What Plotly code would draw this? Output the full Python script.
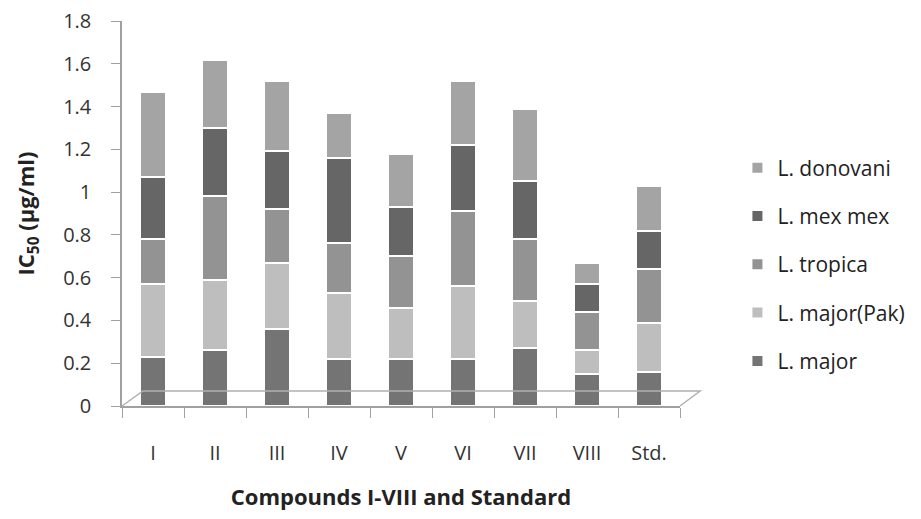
import plotly.graph_objects as go

categories = ["I", "II", "III", "IV", "V", "VI", "VII", "VIII", "Std."]
l_major = [0.23, 0.26, 0.36, 0.22, 0.22, 0.22, 0.27, 0.15, 0.16]
l_major_pak = [0.34, 0.33, 0.31, 0.31, 0.24, 0.34, 0.22, 0.11, 0.23]
l_tropica = [0.21, 0.39, 0.25, 0.23, 0.24, 0.35, 0.29, 0.18, 0.25]
l_mex_mex = [0.29, 0.32, 0.27, 0.40, 0.23, 0.31, 0.27, 0.13, 0.18]
l_donovani = [0.40, 0.32, 0.33, 0.21, 0.25, 0.30, 0.34, 0.10, 0.21]

series = [
    ("L. major", l_major, "#747474"),
    ("L. major(Pak)", l_major_pak, "#bebebe"),
    ("L. tropica", l_tropica, "#939393"),
    ("L. mex mex", l_mex_mex, "#666666"),
    ("L. donovani", l_donovani, "#a4a4a4"),
]

fig = go.Figure()
for i, (name, vals, col) in enumerate(series):
    fig.add_trace(go.Bar(
        x=categories, y=vals, name=name, legendgroup=name,
        legendrank=len(series) - i,
        marker=dict(color=col, line=dict(color="white", width=2)),
    ))

font = "Open Sans, DejaVu Sans, sans-serif"
fig.update_layout(
    barmode="stack",
    bargap=0.58,
    width=905, height=503,
    margin=dict(l=114, r=233, t=13, b=105),
    paper_bgcolor="white", plot_bgcolor="white",
    font=dict(family=font, size=20, color="#333333"),
    showlegend=True,
    legend=dict(
        traceorder="grouped", xref="container", yref="container",
        x=0.806, xanchor="left", y=0.49, yanchor="middle",
        font=dict(size=21, color="#222222"), tracegroupgap=18,
        itemwidth=30,
    ),
    xaxis=dict(
        automargin=False,
        showline=True, linecolor="#a0a0a0", linewidth=1.5,
        ticks="outside", tickson="boundaries", ticklen=10, tickcolor="#a0a0a0",
        ticklabelstandoff=28,
        title=dict(text="Compounds I-VIII and Standard", standoff=38,
                   font=dict(size=22, color="#222222", family=font, weight="bold")),
        showgrid=False,
    ),
    yaxis=dict(
        automargin=False,
        range=[0, 1.8], dtick=0.2, showline=True, linecolor="#a0a0a0", linewidth=1.5,
        ticks="outside", ticklen=9, tickcolor="#a0a0a0", showgrid=False, zeroline=False,
        ticklabelstandoff=16, ticklabeloverflow="allow",
        title=dict(text="IC<sub>50</sub> (µg/ml)", standoff=22,
                   font=dict(size=22, color="#222222", family=font, weight="bold")),
    ),
)

# 3D-style floor outline
fig.add_shape(type="path", xref="paper", yref="paper",
              path="M 0 0 L 0.0376 0.039 L 1.036 0.039 L 1.0 0",
              line=dict(color="#b0b0b0", width=1.5))

fig.write_html("out.html")
